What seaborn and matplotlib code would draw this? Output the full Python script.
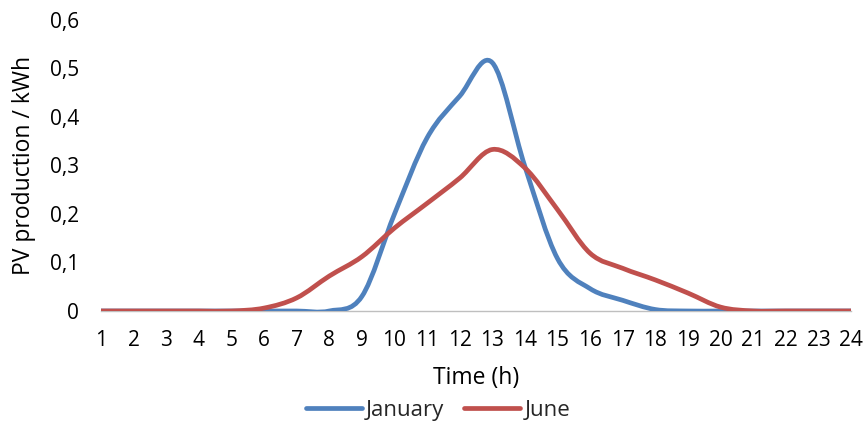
import numpy as np
import pandas as pd
import seaborn as sns
import matplotlib
matplotlib.use("Agg")
import matplotlib.pyplot as plt
from matplotlib.path import Path
from matplotlib.patches import PathPatch
from matplotlib.lines import Line2D

# ---------------- data ----------------
hours = list(range(1, 25))
january = [0, 0, 0, 0, 0, 0, 0, 0, 0.03, 0.20, 0.357, 0.443, 0.512, 0.298,
           0.108, 0.046, 0.022, 0.003, 0, 0, 0, 0, 0, 0]
june = [0, 0, 0, 0, 0, 0.006, 0.027, 0.072, 0.112, 0.171, 0.222, 0.274, 0.333,
        0.295, 0.209, 0.119, 0.088, 0.064, 0.037, 0.008, 0, 0, 0, 0]
series_names = ["January", "June"]
series_colors = ["#4F81BD", "#C0504D"]
y_ticks = [0, 0.1, 0.2, 0.3, 0.4, 0.5, 0.6]
y_tick_labels = ["0", "0,1", "0,2", "0,3", "0,4", "0,5", "0,6"]
x_label = "Time (h)"
y_label = "PV production / kWh"

df = pd.DataFrame({"hour": hours * 2,
                   "value": january + june,
                   "month": ["January"] * 24 + ["June"] * 24})

sns.set_style("white")
plt.rcParams["font.family"] = ["Open Sans", "DejaVu Sans"]

fig = plt.figure(figsize=(8.66, 4.21), dpi=100)
ax = fig.add_axes([0.1166, 0.2613, 0.8661, 0.6912])


def smooth_path(xs, ys):
    """Excel-style smoothed line: cubic Bezier through every data point."""
    pts = np.column_stack([xs, ys]).astype(float)
    n = len(pts)
    verts = [pts[0]]
    codes = [Path.MOVETO]
    for i in range(n - 1):
        p0 = pts[i - 1] if i > 0 else pts[i]
        p1 = pts[i]
        p2 = pts[i + 1]
        p3 = pts[i + 2] if i + 2 < n else pts[i + 1]
        c1 = p1 + (p2 - p0) / 6.0
        c2 = p2 - (p3 - p1) / 6.0
        verts += [c1, c2, p2]
        codes += [Path.CURVE4] * 3
    return Path(verts, codes)


handles = []
for name, color in zip(series_names, series_colors):
    sub = df[df["month"] == name]
    patch = PathPatch(smooth_path(sub["hour"].values, sub["value"].values),
                      facecolor="none", edgecolor=color, lw=3.4,
                      capstyle="round", joinstyle="round", zorder=3)
    ax.add_patch(patch)
    handles.append(Line2D([0], [0], color=color, lw=3.4,
                          solid_capstyle="round", label=name))

ax.set_xlim(1, 24)
ax.set_ylim(0, 0.6)
ax.set_xticks(hours)
ax.set_xticklabels([str(h) for h in hours])
ax.set_yticks(y_ticks)
ax.set_yticklabels(y_tick_labels)

for s in ["top", "right", "left"]:
    ax.spines[s].set_visible(False)
ax.spines["bottom"].set_color("#BFBFBF")
ax.spines["bottom"].set_linewidth(1.0)
ax.spines["bottom"].set_zorder(1)

ax.tick_params(axis="x", length=4, width=1, color="#BFBFBF",
               direction="out", pad=10, labelsize=15, labelcolor="black")
ax.tick_params(axis="y", length=0, pad=16, labelsize=15, labelcolor="black")
ax.grid(False)

ax.set_xlabel(x_label, fontsize=16.5, color="black")
ax.set_ylabel(y_label, fontsize=16.5, color="black")
ax.xaxis.set_label_coords(0.5, -0.19)
ax.yaxis.set_label_coords(-0.086, 0.5)

fig.legend(handles=handles, loc="center", bbox_to_anchor=(0.506, 0.026),
           ncol=2, frameon=False, fontsize=16, handlelength=2.5,
           handletextpad=0.2, columnspacing=0.9, borderaxespad=0)

fig.savefig("out.png", dpi=100)
